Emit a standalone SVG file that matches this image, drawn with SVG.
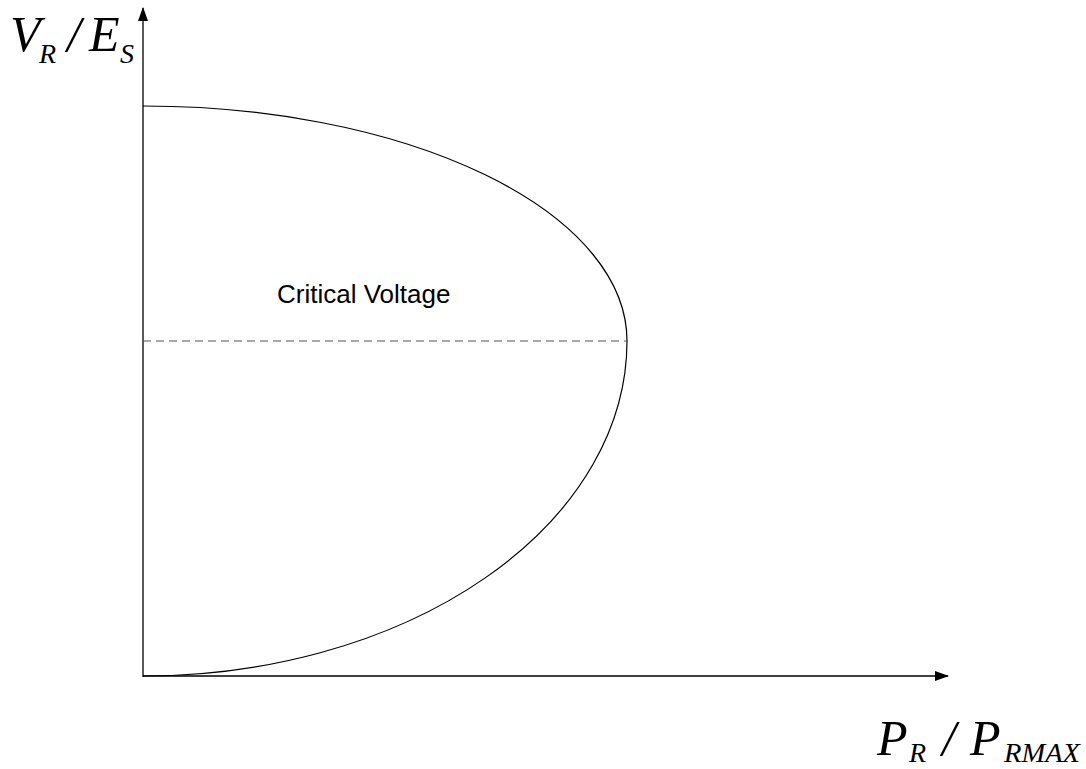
<svg xmlns="http://www.w3.org/2000/svg" width="1086" height="769" viewBox="0 0 1086 769">
<style>
.ax{stroke:#000;stroke-width:1.3;fill:none}
.lbl{font-family:"Liberation Serif",serif;font-style:italic;fill:#000}
.big{font-size:50px}
.sub{font-size:28px}
.txt{font-family:"Liberation Sans",Arial,sans-serif;font-size:26px;fill:#000}
</style>
<defs>
<marker id="arr" markerWidth="14" markerHeight="10" refX="13" refY="5" orient="auto" markerUnits="userSpaceOnUse">
<path d="M0,0 L14,5 L0,10 Z" fill="#000"/>
</marker>
</defs>
<rect width="1086" height="769" fill="#fff"/>
<g id="connectors">
<line class="ax" x1="143" y1="677" x2="143" y2="8" marker-end="url(#arr)"/>
<line class="ax" x1="143" y1="676" x2="948" y2="676" marker-end="url(#arr)"/>
</g>
<g id="curve">
<path d="M143,106 A484,235 0 0 1 627,341 A484,335 0 0 1 143,676" fill="none" stroke="#000" stroke-width="1.2"/>
<line x1="143" y1="341" x2="627" y2="341" stroke="#555" stroke-width="1.2" stroke-dasharray="8,5"/>
</g>
<g id="label-critical">
<text class="txt" x="277" y="303">Critical Voltage</text>
</g>
<g id="label-y">
<text class="lbl big" x="10" y="51">V</text>
<text class="lbl sub" x="39" y="63">R</text>
<text class="lbl big" x="67" y="51">/</text>
<text class="lbl big" x="89" y="51">E</text>
<text class="lbl sub" x="120" y="63">S</text>
</g>
<g id="label-x">
<text class="lbl big" x="877" y="755">P</text>
<text class="lbl sub" x="909" y="762">R</text>
<text class="lbl big" x="942" y="755">/</text>
<text class="lbl big" x="970" y="755">P</text>
<text class="lbl sub" x="1004" y="762" textLength="76" lengthAdjust="spacingAndGlyphs">RMAX</text>
</g>
</svg>
